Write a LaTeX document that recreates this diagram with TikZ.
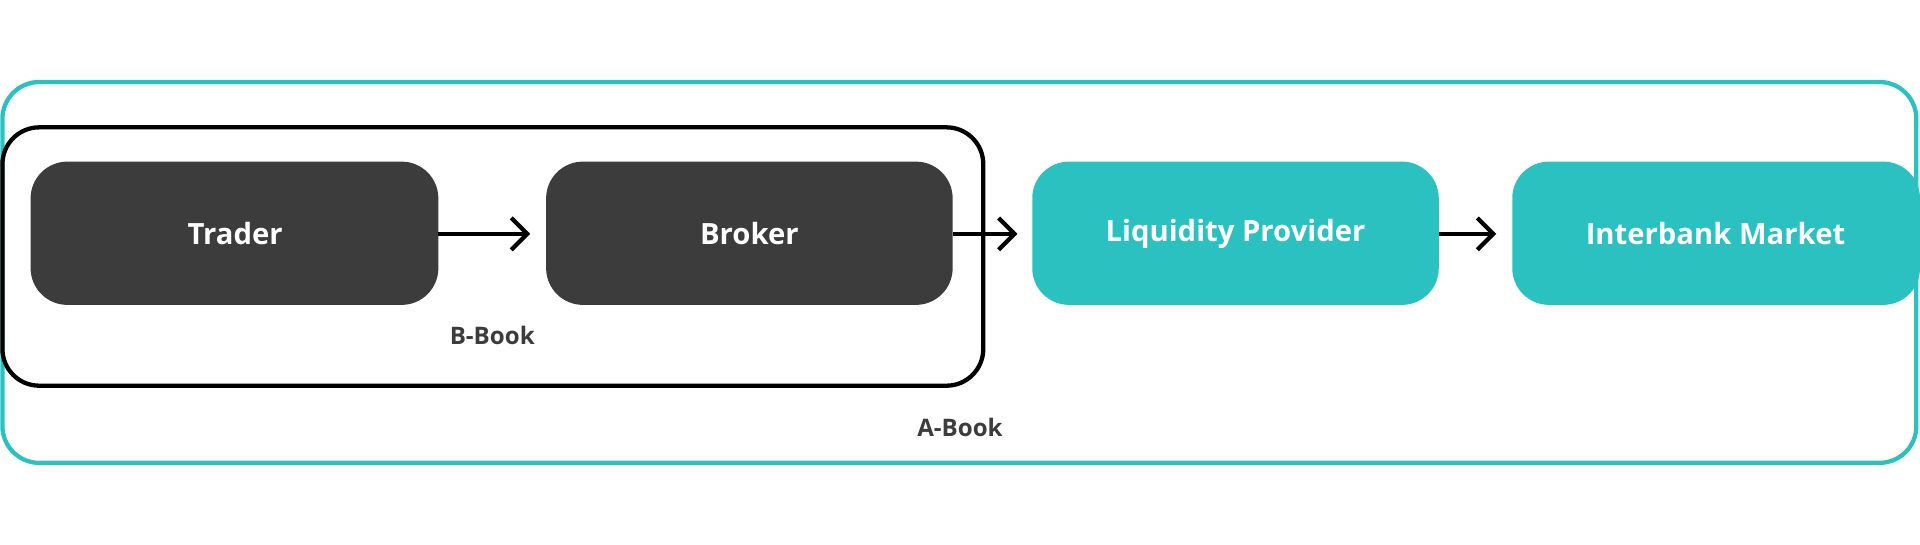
\documentclass[tikz,border=0pt]{standalone}
\usepackage{fontspec}
\setmainfont{Open Sans}
\usetikzlibrary{arrows.meta}
\definecolor{teal}{HTML}{2BC1C1}
\definecolor{dark}{HTML}{3C3C3C}
\begin{document}
\begin{tikzpicture}[x=0.1mm,y=-0.1mm,
  box/.style={rounded corners=3mm,inner sep=0pt},
  lbl/.style={font=\fontsize{6.8pt}{8pt}\selectfont\bfseries,text=white},
  grp/.style={font=\fontsize{5.6pt}{7pt}\selectfont\bfseries,text=dark},
  arr/.style={line width=0.35mm,-{Straight Barb[length=1.3mm,width=2.6mm,line width=0.35mm]}}]
\useasboundingbox (0,0) rectangle (1568,445);
\draw[teal,line width=0.35mm,rounded corners=3mm] (2,67) rectangle (1565,378);
\draw[black,line width=0.35mm,rounded corners=3mm] (2,104) rectangle (803,315);
\fill[dark,rounded corners=3mm] (25,132) rectangle (358,249);
\fill[dark,rounded corners=3mm] (446,132) rectangle (778,249);
\fill[teal,rounded corners=3mm] (843,132) rectangle (1175,249);
\fill[teal,rounded corners=3mm] (1235,132) rectangle (1568,249);
\node[lbl] (t) at (192,191) {Trader};
\node[lbl] (b) at (612,191) {Broker};
\node[lbl] (l) at (1009,191) {Liquidity Provider};
\node[lbl] (i) at (1401,191) {Interbank Market};
\coordinate (t1) at (358,191); \coordinate (b0) at (433,191);
\coordinate (b1) at (778,191); \coordinate (l0) at (831,191);
\coordinate (l1) at (1175,191); \coordinate (i0) at (1222,191);
\draw[arr] (t1) -- (b0);
\draw[arr] (b1) -- (l0);
\draw[arr] (l1) -- (i0);
\node[grp] (bb) at (402,274) {B-Book};
\node[grp] (ab) at (784,349) {A-Book};
\end{tikzpicture}
\end{document}
